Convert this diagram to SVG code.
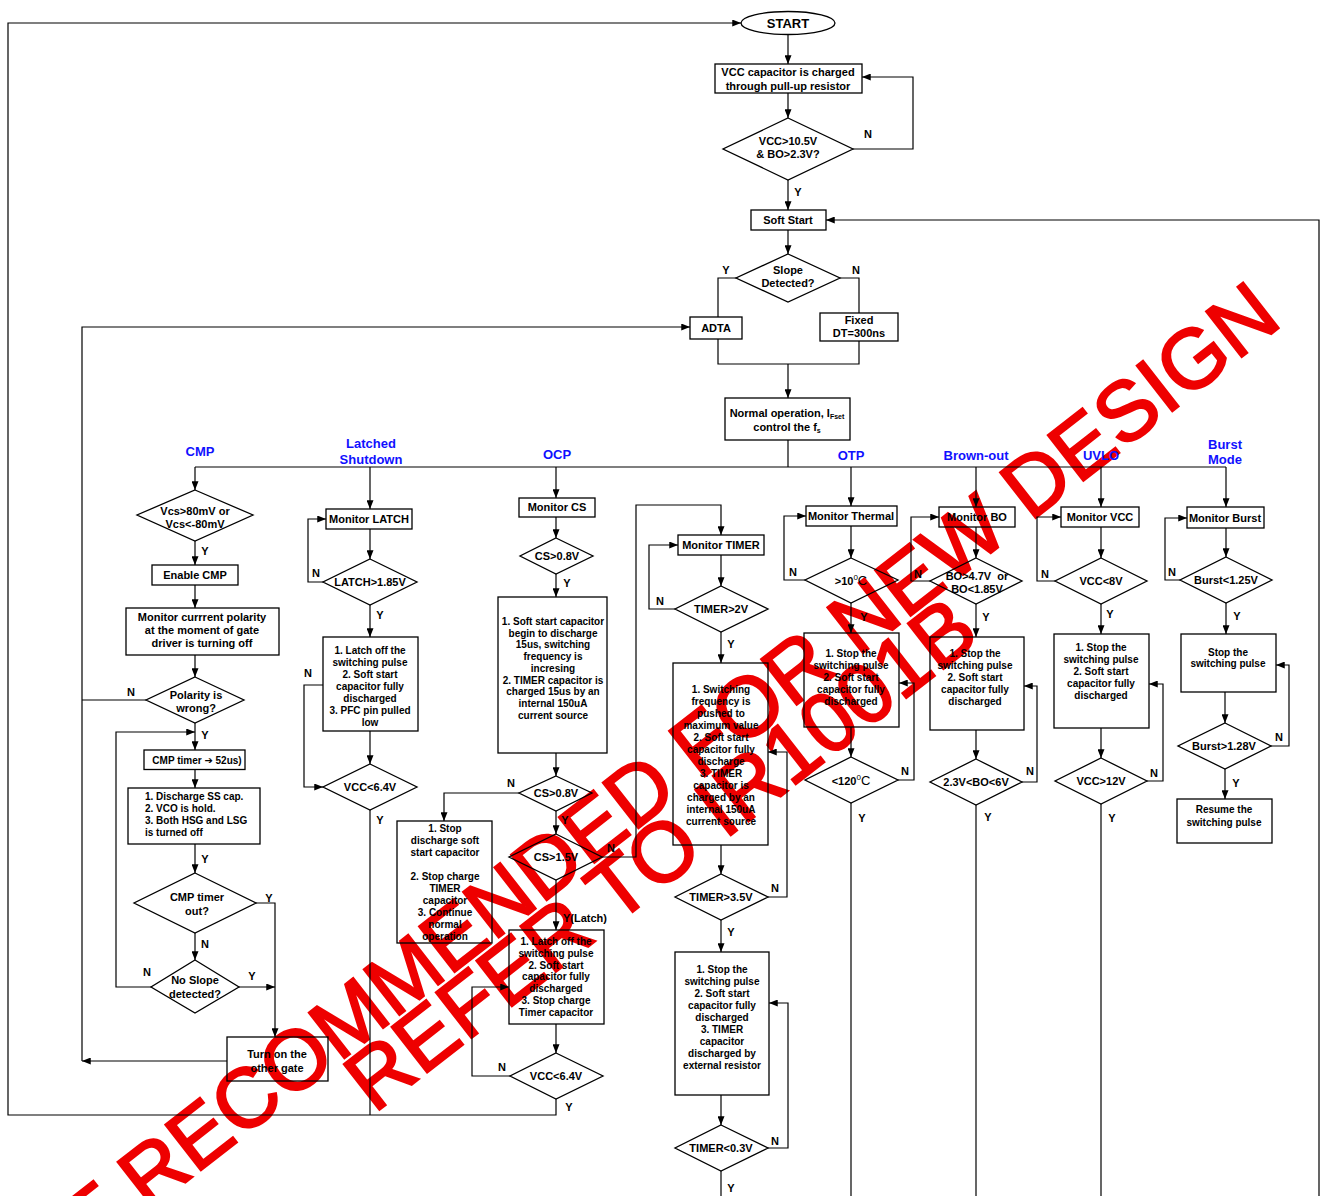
<svg xmlns="http://www.w3.org/2000/svg" width="1322" height="1196" viewBox="0 0 1322 1196">
<defs>
<marker id="a" viewBox="0 0 10 8" refX="10" refY="4" markerWidth="9" markerHeight="7" markerUnits="userSpaceOnUse" orient="auto"><path d="M0,0 L10,4 L0,8 z" fill="#000"/></marker>
<style>
.b{fill:none;stroke:#000;stroke-width:1.3}
.c{fill:none;stroke:#000;stroke-width:1.2}
.c.ar{marker-end:url(#a)}
text{font-family:"Liberation Sans",Arial,"DejaVu Sans",sans-serif;font-weight:bold;fill:#000}
.t{font-size:11px;text-anchor:middle}
.s{font-size:10px;text-anchor:middle}
.sl{font-size:10px;text-anchor:start}
.yn{font-size:11px;text-anchor:middle}
.lb{font-size:13px;text-anchor:middle;fill:#1010ff}
.wm{font-family:"Liberation Sans",Arial,sans-serif;font-weight:normal;font-size:84px;fill:#ee0000;stroke:#ee0000;stroke-width:2.2}
</style>
</defs>
<rect width="1322" height="1196" fill="#fff"/>

<g id="watermark">
<text class="wm" transform="translate(1284,324) rotate(-38)" text-anchor="end">NOT RECOMMENDED FOR NEW DESIGN</text>
<text class="wm" transform="translate(374,1114) rotate(-38)" text-anchor="start">REFER TO IR1001B</text>
</g>

<g id="connectors">
<path class="c ar" d="M788,35 V64"/>
<path class="c ar" d="M788,93 V118"/>
<path class="c ar" d="M853,149 H913 V77 H862"/>
<path class="c ar" d="M788,180 V210"/>
<path class="c ar" d="M1319,1196 V220 H826"/>
<path class="c ar" d="M788,230 V254"/>
<path class="c" d="M736,278 H718 V317"/>
<path class="c" d="M840,278 H859 V313"/>
<path class="c" d="M718,339 V364 H859 V341"/>
<path class="c ar" d="M788,364 V398"/>
<path class="c" d="M788,440 V467"/>
<path class="c" d="M195,467 H1226"/>
<path class="c ar" d="M195,467 V490"/>
<path class="c ar" d="M370,467 V509"/>
<path class="c ar" d="M556,467 V498"/>
<path class="c ar" d="M851,467 V506"/>
<path class="c ar" d="M976,467 V507"/>
<path class="c ar" d="M1101,467 V507"/>
<path class="c ar" d="M1226,467 V507"/>
<path class="c ar" d="M82,1061 V327 H690"/>
<path class="c ar" d="M195,541 V565"/>
<path class="c ar" d="M195,585 V608"/>
<path class="c ar" d="M195,655 V677"/>
<path class="c" d="M146,700 H82"/>
<path class="c ar" d="M195,723 V750"/>
<path class="c ar" d="M151,987 H116 V732 H195"/>
<path class="c ar" d="M195,769 V788"/>
<path class="c ar" d="M195,844 V873"/>
<path class="c ar" d="M256,903 H275 V1037"/>
<path class="c ar" d="M195,933 V960"/>
<path class="c ar" d="M239,987 H275"/>
<path class="c ar" d="M227,1061 H82"/>
<path class="c ar" d="M323,582 H308 V519 H326"/>
<path class="c ar" d="M370,529 V559"/>
<path class="c ar" d="M370,605 V637"/>
<path class="c ar" d="M370,731 V764"/>
<path class="c ar" d="M323,685 H304 V787 H323"/>
<path class="c" d="M370,810 V1115"/>
<path class="c ar" d="M556,517 V538"/>
<path class="c ar" d="M556,574 V597"/>
<path class="c ar" d="M556,753 V776"/>
<path class="c ar" d="M519,793 H444 V821"/>
<path class="c ar" d="M556,811 V834"/>
<path class="c ar" d="M602,857 H636 V505 H721 V535"/>
<path class="c ar" d="M556,880 V930"/>
<path class="c ar" d="M556,1024 V1053"/>
<path class="c ar" d="M510,1076 H472 V987 H509"/>
<path class="c ar" d="M556,1099 V1115 H8 V23 H741"/>
<path class="c ar" d="M675,609 H649 V545 H678"/>
<path class="c ar" d="M721,555 V586"/>
<path class="c ar" d="M721,632 V663"/>
<path class="c ar" d="M721,845 V874"/>
<path class="c ar" d="M768,897 H787 V752 H768"/>
<path class="c ar" d="M721,920 V952"/>
<path class="c ar" d="M721,1095 V1125"/>
<path class="c ar" d="M768,1148 H788 V1003 H769"/>
<path class="c" d="M721,1171 V1196"/>
<path class="c ar" d="M805,580 H784 V516 H806"/>
<path class="c ar" d="M851,526 V558"/>
<path class="c ar" d="M851,603 V633"/>
<path class="c ar" d="M898,780 H914 V683 H899"/>
<path class="c ar" d="M851,727 V757"/>
<path class="c" d="M851,803 V1196"/>
<path class="c ar" d="M930,581 H911 V517 H939"/>
<path class="c ar" d="M976,527 V558"/>
<path class="c ar" d="M976,604 V637"/>
<path class="c ar" d="M1022,782 H1037 V686 H1024"/>
<path class="c ar" d="M976,730 V759"/>
<path class="c" d="M976,805 V1196"/>
<path class="c ar" d="M1055,581 H1037 V517 H1061"/>
<path class="c ar" d="M1101,527 V558"/>
<path class="c ar" d="M1101,604 V634"/>
<path class="c ar" d="M1147,781 H1163 V684 H1149"/>
<path class="c ar" d="M1101,728 V758"/>
<path class="c" d="M1101,804 V1196"/>
<path class="c ar" d="M1180,580 H1165 V518 H1187"/>
<path class="c ar" d="M1226,528 V557"/>
<path class="c ar" d="M1226,603 V634"/>
<path class="c ar" d="M1271,746 H1289 V665 H1276"/>
<path class="c ar" d="M1225,692 V723"/>
<path class="c ar" d="M1225,769 V799"/>
</g>

<g id="labels">
<text class="lb" x="200" y="456">CMP</text>
<text class="lb" x="371" y="448">Latched</text>
<text class="lb" x="371" y="464">Shutdown</text>
<text class="lb" x="557" y="459">OCP</text>
<text class="lb" x="851" y="460">OTP</text>
<text class="lb" x="976" y="460">Brown-out</text>
<text class="lb" x="1101" y="460">UVLO</text>
<text class="lb" x="1225" y="449">Burst</text>
<text class="lb" x="1225" y="464">Mode</text>
<text class="yn" x="868" y="138">N</text>
<text class="yn" x="798" y="196">Y</text>
<text class="yn" x="726" y="274">Y</text>
<text class="yn" x="856" y="274">N</text>
<text class="yn" x="205" y="555">Y</text>
<text class="yn" x="131" y="696">N</text>
<text class="yn" x="205" y="739">Y</text>
<text class="yn" x="205" y="863">Y</text>
<text class="yn" x="269" y="902">Y</text>
<text class="yn" x="205" y="948">N</text>
<text class="yn" x="252" y="980">Y</text>
<text class="yn" x="147" y="976">N</text>
<text class="yn" x="316" y="577">N</text>
<text class="yn" x="380" y="619">Y</text>
<text class="yn" x="308" y="677">N</text>
<text class="yn" x="380" y="824">Y</text>
<text class="yn" x="567" y="587">Y</text>
<text class="yn" x="511" y="787">N</text>
<text class="yn" x="565" y="824">Y</text>
<text class="yn" x="611" y="852">N</text>
<text class="yn" x="563" y="922" style="text-anchor:start">Y(Latch)</text>
<text class="yn" x="502" y="1071">N</text>
<text class="yn" x="569" y="1111">Y</text>
<text class="yn" x="660" y="605">N</text>
<text class="yn" x="731" y="648">Y</text>
<text class="yn" x="775" y="892">N</text>
<text class="yn" x="731" y="936">Y</text>
<text class="yn" x="775" y="1145">N</text>
<text class="yn" x="731" y="1192">Y</text>
<text class="yn" x="793" y="576">N</text>
<text class="yn" x="864" y="621">Y</text>
<text class="yn" x="905" y="775">N</text>
<text class="yn" x="862" y="822">Y</text>
<text class="yn" x="918" y="578">N</text>
<text class="yn" x="986" y="621">Y</text>
<text class="yn" x="1030" y="775">N</text>
<text class="yn" x="988" y="821">Y</text>
<text class="yn" x="1045" y="578">N</text>
<text class="yn" x="1110" y="618">Y</text>
<text class="yn" x="1154" y="777">N</text>
<text class="yn" x="1112" y="822">Y</text>
<text class="yn" x="1172" y="576">N</text>
<text class="yn" x="1237" y="620">Y</text>
<text class="yn" x="1279" y="741">N</text>
<text class="yn" x="1236" y="787">Y</text>
</g>

<g id="start"><ellipse class="b" cx="788" cy="23" rx="47" ry="11.5"/><text class="t" x="788" y="28" style="font-size:13px">START</text></g>
<g id="vcc-charge"><rect class="b" x="715" y="64" width="147" height="29"/><text class="t" x="788" y="76">VCC capacitor is charged</text><text class="t" x="788" y="90">through pull-up resistor</text></g>
<g id="d-vcc"><path class="b" d="M788,118 L853,149 L788,180 L723,149 Z"/><text class="t" x="788" y="145">VCC&gt;10.5V</text><text class="t" x="788" y="158">&amp; BO&gt;2.3V?</text></g>
<g id="soft-start"><rect class="b" x="751" y="210" width="75" height="20"/><text class="t" x="788" y="224">Soft Start</text></g>
<g id="d-slope"><path class="b" d="M788,254 L840,278 L788,302 L736,278 Z"/><text class="t" x="788" y="274">Slope</text><text class="t" x="788" y="287">Detected?</text></g>
<g id="adta"><rect class="b" x="690" y="317" width="52" height="22"/><text class="t" x="716" y="332">ADTA</text></g>
<g id="fixed"><rect class="b" x="820" y="313" width="78" height="28"/><text class="t" x="859" y="324">Fixed</text><text class="t" x="859" y="337">DT=300ns</text></g>
<g id="normal"><rect class="b" x="725" y="398" width="125" height="42"/><text class="t" x="787" y="417">Normal operation, I<tspan font-size="7" dy="2">Fset</tspan></text><text class="t" x="787" y="431">control the f<tspan font-size="7" dy="2">s</tspan></text></g>

<g id="cmp-d1"><path class="b" d="M195,490 L253,515 L195,541 L137,515 Z"/><text class="t" x="195" y="515">Vcs&gt;80mV or</text><text class="t" x="195" y="528">Vcs&lt;-80mV</text></g>
<g id="cmp-enable"><rect class="b" x="152" y="565" width="86" height="20"/><text class="t" x="195" y="579">Enable CMP</text></g>
<g id="cmp-monitor"><rect class="b" x="126" y="608" width="153" height="47"/><text class="t" x="202" y="621">Monitor currrent polarity</text><text class="t" x="202" y="634">at the moment of gate</text><text class="t" x="202" y="647">driver is turning off</text></g>
<g id="cmp-polarity"><path class="b" d="M195,677 L244,700 L195,723 L146,700 Z"/><text class="t" x="196" y="699">Polarity is</text><text class="t" x="196" y="712">wrong?</text></g>
<g id="cmp-timer"><rect class="b" x="144" y="750" width="101" height="19.5"/><text class="s" x="197" y="764">CMP timer ➔ 52us)</text></g>
<g id="cmp-discharge"><rect class="b" x="128" y="788" width="132" height="56"/><text class="sl" x="145" y="800">1. Discharge SS cap.</text><text class="sl" x="145" y="812">2. VCO is hold.</text><text class="sl" x="145" y="824">3. Both HSG and LSG</text><text class="sl" x="145" y="836">is turned off</text></g>
<g id="cmp-timerout"><path class="b" d="M195,873 L256,903 L195,933 L134,903 Z"/><text class="t" x="197" y="901">CMP timer</text><text class="t" x="197" y="915">out?</text></g>
<g id="cmp-noslope"><path class="b" d="M195,960 L239,987 L195,1013 L151,987 Z"/><text class="t" x="195" y="984">No Slope</text><text class="t" x="195" y="998">detected?</text></g>
<g id="cmp-turnon"><rect class="b" x="227" y="1037" width="101" height="44"/><text class="t" x="277" y="1058">Turn on the</text><text class="t" x="277" y="1072">other gate</text></g>

<g id="latch-monitor"><rect class="b" x="326" y="509" width="86" height="20"/><text class="t" x="369" y="523">Monitor LATCH</text></g>
<g id="latch-d"><path class="b" d="M370,559 L417,582 L370,605 L323,582 Z"/><text class="t" x="370" y="586">LATCH&gt;1.85V</text></g>
<g id="latch-box"><rect class="b" x="323" y="637" width="95" height="94"/><text class="s" x="370" y="654">1. Latch off the</text><text class="s" x="370" y="666">switching pulse</text><text class="s" x="370" y="678">2. Soft start</text><text class="s" x="370" y="690">capacitor fully</text><text class="s" x="370" y="702">discharged</text><text class="s" x="370" y="714">3. PFC pin pulled</text><text class="s" x="370" y="726">low</text></g>
<g id="latch-vcc"><path class="b" d="M370,764 L417,787 L370,810 L323,787 Z"/><text class="t" x="370" y="791">VCC&lt;6.4V</text></g>

<g id="ocp-monitor"><rect class="b" x="519" y="498" width="76" height="19"/><text class="t" x="557" y="511">Monitor CS</text></g>
<g id="ocp-d1"><path class="b" d="M556,538 L593,556 L556,574 L520,556 Z"/><text class="t" x="557" y="560">CS&gt;0.8V</text></g>
<g id="ocp-box"><rect class="b" x="498" y="597" width="109" height="156"/><text class="s" x="553" y="625">1. Soft start capacitor</text><text class="s" x="553" y="637">begin to discharge</text><text class="s" x="553" y="648">15us, switching</text><text class="s" x="553" y="660">frequency is</text><text class="s" x="553" y="672">incresing</text><text class="s" x="553" y="684">2. TIMER capacitor is</text><text class="s" x="553" y="695">charged 15us by an</text><text class="s" x="553" y="707">internal 150uA</text><text class="s" x="553" y="719">current source</text></g>
<g id="ocp-d2"><path class="b" d="M556,776 L592,793 L556,811 L519,793 Z"/><text class="t" x="556" y="797">CS&gt;0.8V</text></g>
<g id="ocp-stop"><rect class="b" x="397" y="821" width="95" height="122"/><text class="s" x="445" y="832">1. Stop</text><text class="s" x="445" y="844">discharge soft</text><text class="s" x="445" y="856">start capacitor</text><text class="s" x="445" y="880">2. Stop charge</text><text class="s" x="445" y="892">TIMER</text><text class="s" x="445" y="904">capacitor</text><text class="s" x="445" y="916">3. Continue</text><text class="s" x="445" y="928">normal</text><text class="s" x="445" y="940">operation</text></g>
<g id="ocp-d3"><path class="b" d="M556,834 L602,857 L556,880 L509,857 Z"/><text class="t" x="556" y="861">CS&gt;1.5V</text></g>
<g id="ocp-latch"><rect class="b" x="509" y="930" width="95" height="94"/><text class="s" x="556" y="945">1. Latch off the</text><text class="s" x="556" y="957">switching pulse</text><text class="s" x="556" y="969">2. Soft start</text><text class="s" x="556" y="980">capacitor fully</text><text class="s" x="556" y="992">discharged</text><text class="s" x="556" y="1004">3. Stop charge</text><text class="s" x="556" y="1016">Timer capacitor</text></g>
<g id="ocp-vcc"><path class="b" d="M556,1053 L603,1076 L556,1099 L510,1076 Z"/><text class="t" x="556" y="1080">VCC&lt;6.4V</text></g>

<g id="timer-monitor"><rect class="b" x="678" y="535" width="86" height="20"/><text class="t" x="721" y="549">Monitor TIMER</text></g>
<g id="timer-d1"><path class="b" d="M721,586 L768,609 L721,632 L675,609 Z"/><text class="t" x="721" y="613">TIMER&gt;2V</text></g>
<g id="timer-box1"><rect class="b" x="673" y="663" width="95" height="182"/><text class="s" x="721" y="693">1. Switching</text><text class="s" x="721" y="705">frequency is</text><text class="s" x="721" y="717">pushed to</text><text class="s" x="721" y="729">maximum value</text><text class="s" x="721" y="741">2. Soft start</text><text class="s" x="721" y="753">capacitor fully</text><text class="s" x="721" y="765">discharge</text><text class="s" x="721" y="777">3. TIMER</text><text class="s" x="721" y="789">capacitor is</text><text class="s" x="721" y="801">charged by an</text><text class="s" x="721" y="813">internal 150uA</text><text class="s" x="721" y="825">current source</text></g>
<g id="timer-d2"><path class="b" d="M721,874 L768,897 L721,920 L675,897 Z"/><text class="t" x="721" y="901">TIMER&gt;3.5V</text></g>
<g id="timer-box2"><rect class="b" x="675" y="952" width="94" height="143"/><text class="s" x="722" y="973">1. Stop the</text><text class="s" x="722" y="985">switching pulse</text><text class="s" x="722" y="997">2. Soft start</text><text class="s" x="722" y="1009">capacitor fully</text><text class="s" x="722" y="1021">discharged</text><text class="s" x="722" y="1033">3. TIMER</text><text class="s" x="722" y="1045">capacitor</text><text class="s" x="722" y="1057">discharged by</text><text class="s" x="722" y="1069">external resistor</text></g>
<g id="timer-d3"><path class="b" d="M721,1125 L768,1148 L721,1171 L675,1148 Z"/><text class="t" x="721" y="1152">TIMER&lt;0.3V</text></g>

<g id="otp-monitor"><rect class="b" x="806" y="506" width="91" height="20"/><text class="t" x="851" y="520">Monitor Thermal</text></g>
<g id="otp-d1"><path class="b" d="M851,558 L898,580 L851,603 L805,580 Z"/><text class="t" x="851" y="585">&gt;10<tspan font-size="8" font-weight="normal" dy="-5">0</tspan><tspan font-size="13" font-weight="normal" dy="5">C</tspan></text></g>
<g id="otp-box"><rect class="b" x="804" y="633" width="95" height="94"/><text class="s" x="851" y="657">1. Stop the</text><text class="s" x="851" y="669">switching pulse</text><text class="s" x="851" y="681">2. Soft start</text><text class="s" x="851" y="693">capacitor fully</text><text class="s" x="851" y="705">discharged</text></g>
<g id="otp-d2"><path class="b" d="M851,757 L898,780 L851,803 L805,780 Z"/><text class="t" x="851" y="785">&lt;120<tspan font-size="8" font-weight="normal" dy="-5">0</tspan><tspan font-size="13" font-weight="normal" dy="5">C</tspan></text></g>

<g id="bo-monitor"><rect class="b" x="939" y="507" width="76" height="20"/><text class="t" x="977" y="521">Monitor BO</text></g>
<g id="bo-d1"><path class="b" d="M976,558 L1022,581 L976,604 L930,581 Z"/><text class="t" x="977" y="580" xml:space="preserve">BO&gt;4.7V  or</text><text class="t" x="977" y="593">BO&lt;1.85V</text></g>
<g id="bo-box"><rect class="b" x="930" y="637" width="94" height="93"/><text class="s" x="975" y="657">1. Stop the</text><text class="s" x="975" y="669">switching pulse</text><text class="s" x="975" y="681">2. Soft start</text><text class="s" x="975" y="693">capacitor fully</text><text class="s" x="975" y="705">discharged</text></g>
<g id="bo-d2"><path class="b" d="M976,759 L1022,782 L976,805 L930,782 Z"/><text class="t" x="976" y="786">2.3V&lt;BO&lt;6V</text></g>

<g id="uvlo-monitor"><rect class="b" x="1061" y="507" width="78" height="20"/><text class="t" x="1100" y="521">Monitor VCC</text></g>
<g id="uvlo-d1"><path class="b" d="M1101,558 L1147,581 L1101,604 L1055,581 Z"/><text class="t" x="1101" y="585">VCC&lt;8V</text></g>
<g id="uvlo-box"><rect class="b" x="1054" y="634" width="95" height="94"/><text class="s" x="1101" y="651">1. Stop the</text><text class="s" x="1101" y="663">switching pulse</text><text class="s" x="1101" y="675">2. Soft start</text><text class="s" x="1101" y="687">capacitor fully</text><text class="s" x="1101" y="699">discharged</text></g>
<g id="uvlo-d2"><path class="b" d="M1101,758 L1147,781 L1101,804 L1055,781 Z"/><text class="t" x="1101" y="785">VCC&gt;12V</text></g>

<g id="burst-monitor"><rect class="b" x="1187" y="507" width="77" height="21"/><text class="t" x="1225" y="522">Monitor Burst</text></g>
<g id="burst-d1"><path class="b" d="M1226,557 L1272,580 L1226,603 L1180,580 Z"/><text class="t" x="1226" y="584">Burst&lt;1.25V</text></g>
<g id="burst-stop"><rect class="b" x="1181" y="634" width="95" height="58"/><text class="s" x="1228" y="656">Stop the</text><text class="s" x="1228" y="667">switching pulse</text></g>
<g id="burst-d2"><path class="b" d="M1225,723 L1271,746 L1225,769 L1178,746 Z"/><text class="t" x="1224" y="750">Burst&gt;1.28V</text></g>
<g id="burst-resume"><rect class="b" x="1177" y="799" width="95" height="44"/><text class="s" x="1224" y="813">Resume the</text><text class="s" x="1224" y="826">switching pulse</text></g>
</svg>
